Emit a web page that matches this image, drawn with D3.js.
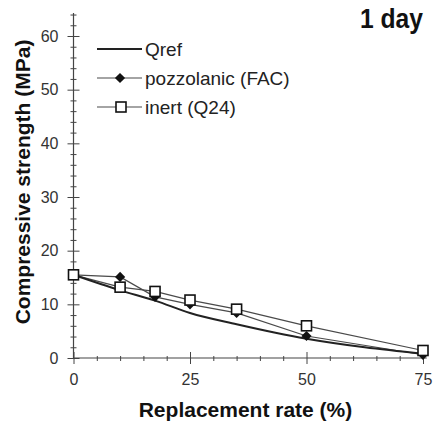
<!DOCTYPE html>
<html>
<head>
<meta charset="utf-8">
<script src="https://cdn.jsdelivr.net/npm/d3@7"></script>
<style>
  html, body { margin: 0; padding: 0; background: #fff; }
  svg { display: block; font-family: "Liberation Sans", Arial, Helvetica, sans-serif; }
</style>
</head>
<body>
<svg id="chart" width="433" height="424"></svg>
<script>
// Replacement rate (%) at which each mix was tested
const replacementRates = [0, 10, 17.5, 25, 35, 50, 75];
// Compressive strength at 1 day (MPa)
const qrefRates = [0, 10, 17.5, 25, 35, 50, 62.5, 75];
const qrefStrength = [15.5, 12.6, 10.7, 8.4, 6.3, 3.6, 2.0, 0.8];
const pozzolanicStrength = [15.5, 15.1, 11.4, 10.0, 8.4, 4.1, 0.6];
const inertStrength = [15.5, 13.2, 12.4, 10.8, 9.1, 6.0, 1.4];

const xTicks = [0, 25, 50, 75];
const yTicks = [0, 10, 20, 30, 40, 50, 60];
const legendLabels = ["Qref", "pozzolanic (FAC)", "inert (Q24)"];

const svg = d3.select("#chart");
const x = d3.scaleLinear().domain([0, 75]).range([73.5, 423]);
const y = d3.scaleLinear().domain([0, 60]).range([358, 36]);

const axisColor = "#444";
const labelColor = "#333";

// ---- Y axis ----
const yAxisG = svg.append("g").attr("transform", `translate(${x(0)},0)`);
const yMinor = d3.range(0, 65, 2).filter(v => v % 10 !== 0);
yAxisG.append("g")
  .call(d3.axisLeft(y).tickValues(yMinor).tickSize(3).tickFormat(""))
  .call(g => g.select(".domain").remove())
  .call(g => g.selectAll(".tick line").attr("x1", 3).attr("stroke", axisColor));
yAxisG.append("g")
  .call(d3.axisLeft(y).tickValues(yTicks).tickSize(6).tickPadding(9))
  .call(g => g.select(".domain").remove())
  .call(g => g.selectAll(".tick line").attr("x1", 6).attr("stroke", axisColor))
  .call(g => g.selectAll(".tick text")
    .attr("font-size", 16).attr("fill", labelColor)
    .attr("font-family", "Liberation Sans, Arial, sans-serif"));
yAxisG.append("line")
  .attr("x1", 0).attr("x2", 0)
  .attr("y1", y(0)).attr("y2", y(64.3))
  .attr("stroke", axisColor).attr("stroke-width", 1.2);

// ---- X axis ----
const xAxisG = svg.append("g").attr("transform", `translate(0,${y(0)})`);
const xMinor = d3.range(0, 76, 5).filter(v => v % 25 !== 0);
xAxisG.append("g")
  .call(d3.axisBottom(x).tickValues(xMinor).tickSize(3).tickFormat(""))
  .call(g => g.select(".domain").remove())
  .call(g => g.selectAll(".tick line").attr("y1", -2).attr("stroke", axisColor));
xAxisG.append("g")
  .call(d3.axisBottom(x).tickValues(xTicks).tickSize(6).tickPadding(10))
  .call(g => g.select(".domain").remove())
  .call(g => g.selectAll(".tick line").attr("y1", -6).attr("stroke", axisColor))
  .call(g => g.selectAll(".tick text")
    .attr("font-size", 16).attr("fill", labelColor)
    .attr("font-family", "Liberation Sans, Arial, sans-serif"));
xAxisG.append("line")
  .attr("x1", x(0)).attr("x2", x(75.8))
  .attr("y1", 0).attr("y2", 0)
  .attr("stroke", axisColor).attr("stroke-width", 1.2);

// ---- Axis titles ----
svg.append("text")
  .attr("x", 245.5).attr("y", 416.5)
  .attr("text-anchor", "middle")
  .attr("font-size", 21).attr("font-weight", "bold").attr("fill", "#111")
  .text("Replacement rate (%)");
svg.append("text")
  .attr("transform", "translate(30,182) rotate(-90)")
  .attr("text-anchor", "middle")
  .attr("font-size", 21).attr("font-weight", "bold").attr("fill", "#111")
  .text("Compressive strength (MPa)");

// ---- Panel label ----
svg.append("text")
  .attr("x", 423).attr("y", 28)
  .attr("text-anchor", "end")
  .attr("font-size", 27).attr("font-weight", "bold").attr("fill", "#111")
  .attr("textLength", 63).attr("lengthAdjust", "spacingAndGlyphs")
  .text("1 day");

// ---- Series ----
const qrefData = qrefRates.map((r, i) => [r, qrefStrength[i]]);
const pozData = replacementRates.map((r, i) => [r, pozzolanicStrength[i]]);
const inertData = replacementRates.map((r, i) => [r, inertStrength[i]]);

const smooth = d3.line().x(d => x(d[0])).y(d => y(d[1])).curve(d3.curveMonotoneX);
const straight = d3.line().x(d => x(d[0])).y(d => y(d[1]));

const plot = svg.append("g");
plot.append("path").datum(inertData)
  .attr("d", straight).attr("fill", "none").attr("stroke", "#4a4a4a").attr("stroke-width", 1.2);
plot.append("path").datum(pozData)
  .attr("d", straight).attr("fill", "none").attr("stroke", "#4a4a4a").attr("stroke-width", 1.2);
plot.append("path").datum(qrefData)
  .attr("d", smooth).attr("fill", "none").attr("stroke", "#222").attr("stroke-width", 2);

// Filled diamond: a square turned 45 degrees
const diamond = d3.symbol().type(d3.symbolSquare).size(52);
plot.selectAll(".poz").data(pozData).join("path")
  .attr("class", "poz")
  .attr("transform", d => `translate(${x(d[0])},${y(d[1])}) rotate(45)`)
  .attr("d", diamond).attr("fill", "#111");

const sq = 10;
plot.selectAll(".inert").data(inertData).join("rect")
  .attr("class", "inert")
  .attr("x", d => x(d[0]) - sq / 2).attr("y", d => y(d[1]) - sq / 2)
  .attr("width", sq).attr("height", sq)
  .attr("fill", "#fff").attr("stroke", "#111").attr("stroke-width", 1.6);

// ---- Legend ----
const legend = svg.append("g");
const rowY = [49, 78, 107];
const lx0 = 97, lx1 = 142;
legendLabels.forEach((label, i) => {
  const g = legend.append("g").attr("transform", `translate(0,${rowY[i]})`);
  g.append("line").attr("x1", lx0).attr("x2", lx1).attr("y1", 0).attr("y2", 0)
    .attr("stroke", i === 0 ? "#222" : "#4a4a4a").attr("stroke-width", i === 0 ? 1.8 : 1.2);
  if (i === 1) {
    g.append("path").attr("transform", `translate(120,0) rotate(45)`).attr("d", diamond).attr("fill", "#111");
  } else if (i === 2) {
    g.append("rect").attr("x", 121 - sq / 2).attr("y", -sq / 2)
      .attr("width", sq).attr("height", sq)
      .attr("fill", "#fff").attr("stroke", "#111").attr("stroke-width", 1.6);
  }
  g.append("text").attr("x", 145).attr("y", 6.5)
    .attr("font-size", 19).attr("fill", "#222")
    .text(label);
});
</script>
</body>
</html>
